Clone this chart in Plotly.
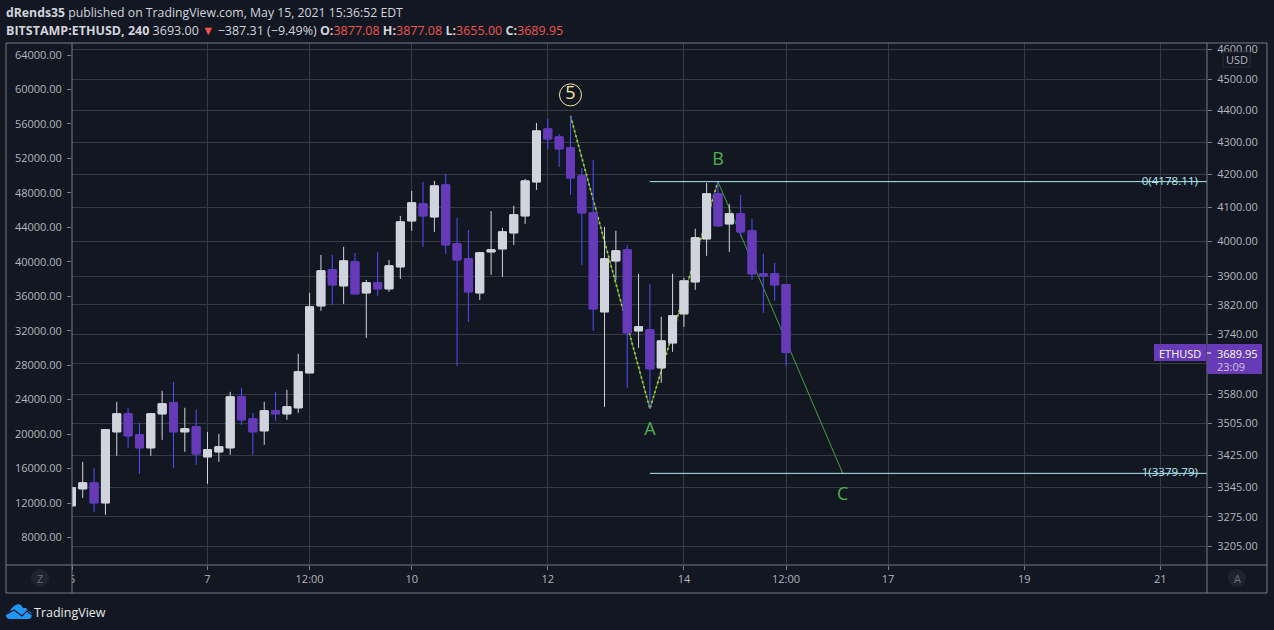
import pandas as pd
import plotly.graph_objects as go

# 4H candles ETHUSD
open_ = [3301, 3342, 3356.6, 3308.1, 3483.4, 3529.2, 3475.8, 3443.1, 3529.2, 3557.6,
         3483.4, 3496, 3420.6, 3433, 3443.1, 3573.1, 3516.4, 3486, 3537, 3529.2,
         3544.7, 3636, 3817.4, 3918.6, 3873.3, 3941.4, 3853.6, 3881.7, 3864.9, 3927.2,
         4060.6, 4111.1, 4072.4, 4168.2, 3993.3, 3950, 3853.6, 3970.2, 3978.9, 4025.4,
         4075.4, 4177.3, 4341.4, 4316.2, 4281.9, 4195.6, 4084.3, 3800.8, 3944.2, 3976,
         3748.7, 3751.4, 3649.2, 3716, 3795.3, 3884.5, 4007.8, 4141.1, 4051.8, 4081.4,
         4031.3, 3907.2, 3907.2, 3877.08]
high = [3344.5, 3408.2, 3393.4, 3488.5, 3560.2, 3544.7, 3506.2, 3531.8, 3588.7, 3612.2,
        3544.7, 3540, 3483.4, 3478.3, 3586.1, 3596.6, 3531.8, 3560.2, 3586.1, 3591.4,
        3686.5, 3853.6, 3961.5, 3961.5, 3984.7, 3967.3, 3890.1, 3970.2, 3947.1, 4075.4,
        4150.1, 4177.3, 4180.3, 4201.7, 4069.5, 4034.2, 3970.2, 4089.8, 4040.1, 4105.2,
        4186.4, 4360.3, 4373, 4325.6, 4382.6, 4220, 4244.6, 4043, 4031.3, 3990.5,
        3907.2, 3878.9, 3787, 3907.2, 3895.8, 4037.2, 4174.3, 4178.11, 4111.1, 4138,
        4066.5, 3964.4, 3938.6, 3877.08]
low = [3301, 3320, 3286.6, 3279.5, 3423.1, 3443.1, 3378.7, 3423.1, 3463.1, 3393.4,
       3433, 3400.8, 3354.2, 3408.2, 3425.6, 3501.1, 3425.6, 3450.6, 3511.3, 3513.8,
       3531.8, 3636, 3803.6, 3820.2, 3822.9, 3850.8, 3729.6, 3845.2, 3856.4, 3892.9,
       4031.3, 3984.7, 4028.3, 3964.4, 3654.5, 3773.2, 3834, 3904.4, 3898.6, 3990.5,
       4051.8, 4153, 4278.8, 4223.1, 4138, 3932.9, 3748.7, 3547.3, 3890.1, 3596.6,
       3702.6, 3542.1, 3609.6, 3691.9, 3759.6, 3862, 3958.7, 4045.9, 3970.2, 4013.7,
       3890.1, 3798.1, 3831.2, 3655]
close = [3344.5, 3356.6, 3308.1, 3488.5, 3529.2, 3473.2, 3443.1, 3529.2, 3555, 3483.4,
         3491, 3428, 3438, 3445.6, 3573.1, 3513.8, 3483.4, 3537, 3529.2, 3547.3,
         3638.6, 3814.6, 3915.8, 3876.1, 3944.2, 3850.8, 3881.7, 3864.9, 3930, 4057.6,
         4114.1, 4075.4, 4165.2, 3990.5, 3947.1, 3856.4, 3967.3, 3976, 4028.3, 4078.4,
         4180.3, 4335, 4309.9, 4278.8, 4189.4, 4084.3, 3809, 3950, 3973.1, 3743.2,
         3759.6, 3646.6, 3721.4, 3789.8, 3887.3, 4010.8, 4141.1, 4045.9, 4081.4, 4028.3,
         3907.2, 3901.5, 3876.1, 3689.95]
times = pd.date_range("2021-05-05", periods=len(open_), freq="4h")

body_high = [max(a, b) for a, b in zip(open_, close)]
body_low = [min(a, b) for a, b in zip(open_, close)]

right_ticks = [4600, 4500, 4400, 4300, 4200, 4100, 4000, 3900, 3820, 3740, 3660, 3580, 3505, 3425, 3345, 3275, 3205]
left_ticks = list(range(8000, 68000, 4000))
x_ticks = ["2021-05-05 00:14", "2021-05-07", "2021-05-08 12:00", "2021-05-10", "2021-05-12",
           "2021-05-14", "2021-05-15 12:00", "2021-05-17", "2021-05-19", "2021-05-21"]
x_labels = ["5", "7", "12:00", "10", "12", "14", "12:00", "17", "19", "21"]

# drawing on the chart
wave_x = ["2021-05-12 08:00", "2021-05-13 12:00", "2021-05-14 12:00", "2021-05-16 08:00"]
wave_y = [4382.6, 3542, 4178.11, 3379.79]
fib_start = "2021-05-13 12:00"
fib_end = "2021-05-21 16:27"
fib_levels = [4178.11, 3379.79]
fib_labels = ["0(4178.11)", "1(3379.79)"]
fib_label_x = "2021-05-21 13:16"
abc_text = ["A", "B", "C"]
abc_x = ["2021-05-13 12:00", "2021-05-14 12:00", "2021-05-16 08:00"]
abc_y = [3488, 4241.5, 3325]

BG = "#131722"
GRID = "#363a45"
FRAME = "#787b86"
TEXT = "#b2b5be"
WHITE = "#d1d4dc"
PURPLE = "#673ab7"
WICK = "#5050ff"
GREEN = "#4caf50"
CYAN = "#b2ebf2"
RED = "#ef5350"
FONT = "Open Sans"

W, H = 1274, 630
L, R, T, B = 72, 1207, 43, 565


def px(x):
    return (x - L) / (R - L)


def py(y):
    return (B - y) / (B - T)


fig = go.Figure()

# main axis: lines below the candles
fig.add_trace(go.Scatter(x=wave_x, y=wave_y, mode="lines", line=dict(color="#43a047", width=1), hoverinfo="skip"))
fig.add_trace(go.Scatter(x=wave_x[:3], y=wave_y[:3], mode="lines", line=dict(color="#b8c43a", width=1.8, dash="2px 3px"), hoverinfo="skip"))

# left price scale
fig.add_trace(go.Scatter(x=[times[0]] * len(left_ticks), y=left_ticks, yaxis="y2", mode="markers", opacity=0, hoverinfo="skip"))

# wicks, then bodies on top so wick colour does not outline the body
fig.add_trace(go.Candlestick(x=times, open=open_, high=high, low=low, close=close, yaxis="y3", whiskerwidth=0,
                             increasing=dict(line=dict(color=WHITE, width=1), fillcolor=WHITE),
                             decreasing=dict(line=dict(color=WICK, width=1), fillcolor=PURPLE)))
fig.add_trace(go.Candlestick(x=times, open=open_, high=body_high, low=body_low, close=close, yaxis="y3", whiskerwidth=0,
                             increasing=dict(line=dict(color=WHITE, width=1), fillcolor=WHITE),
                             decreasing=dict(line=dict(color=PURPLE, width=1), fillcolor=PURPLE)))

for level, label in zip(fib_levels, fib_labels):
    fig.add_trace(go.Scatter(x=[fib_start, fib_end], y=[level, level], yaxis="y3", mode="lines",
                             line=dict(color=CYAN, width=1), hoverinfo="skip"))
    fig.add_trace(go.Scatter(x=[fib_label_x], y=[level], yaxis="y3", mode="text", text=[label],
                             textposition="middle left", textfont=dict(family=FONT, size=11.6, color=CYAN), hoverinfo="skip"))

fig.add_trace(go.Scatter(x=abc_x, y=abc_y, yaxis="y3", mode="text", text=abc_text,
                         textfont=dict(family=FONT, size=18, color=GREEN), hoverinfo="skip"))
fig.add_trace(go.Scatter(x=["2021-05-12 08:00"], y=[4450], yaxis="y3", mode="markers+text", text=["5"],
                         textposition="middle center", textfont=dict(family=FONT, size=18, color="#f5e6a0"),
                         marker=dict(symbol="circle-open", size=22, color="#f5e6a0", line=dict(width=1, color="#f5e6a0")),
                         hoverinfo="skip"))

log_range = [3.49996, 3.66474]  # 3162 .. 4621

fig.update_layout(
    width=W, height=H, margin=dict(l=L, r=W - R, t=T, b=H - B, pad=0),
    paper_bgcolor=BG, plot_bgcolor=BG, showlegend=False, boxgap=0.3, boxgroupgap=0,
    font=dict(family=FONT, size=11, color=TEXT),
    xaxis=dict(type="date", range=["2021-05-05 00:13", fib_end], tickmode="array", tickvals=x_ticks, ticktext=x_labels,
               showgrid=True, gridcolor=GRID, gridwidth=1, ticks="outside", ticklen=4, tickcolor=FRAME, zeroline=False,
               rangeslider=dict(visible=False), tickfont=dict(family=FONT, size=11, color=TEXT), showline=False),
    yaxis=dict(type="log", side="right", range=log_range, tickmode="array", tickvals=right_ticks,
               ticktext=["" if v == 3660 else f"{v:.2f}" for v in right_ticks], showgrid=True, gridcolor=GRID, gridwidth=1,
               ticks="outside", ticklen=4, tickcolor=FRAME, zeroline=False, showline=False, ticklabelstandoff=3),
    yaxis2=dict(overlaying="y", side="left", range=[4808, 65393], tickmode="array", tickvals=left_ticks,
                ticktext=[f"{v:.2f}" for v in left_ticks], showgrid=False, ticks="outside", ticklen=4,
                tickcolor=FRAME, zeroline=False, showline=False, ticklabelstandoff=3),
    yaxis3=dict(overlaying="y", side="right", type="log", range=log_range, visible=False),
)

shapes = []


def rect(x0, y0, x1, y1, fill=None, line=None, width=1, layer="above"):
    shapes.append(dict(type="rect", xref="paper", yref="paper", x0=px(x0), x1=px(x1), y0=py(y0), y1=py(y1),
                       fillcolor=fill if fill else "rgba(0,0,0,0)", line=dict(color=line if line else "rgba(0,0,0,0)", width=width if line else 0),
                       layer=layer))


def seg(x0, y0, x1, y1, color=FRAME, width=1):
    shapes.append(dict(type="line", xref="paper", yref="paper", x0=px(x0), x1=px(x1), y0=py(y0), y1=py(y1),
                       line=dict(color=color, width=width), layer="above"))


def path(points, fill=None, color=None, width=1):
    d = "M " + " L ".join(f"{px(a):.5f},{py(b):.5f}" for a, b in points)
    shapes.append(dict(type="path", xref="paper", yref="paper", path=d + (" Z" if fill else ""),
                       fillcolor=fill if fill else "rgba(0,0,0,0)",
                       line=dict(color=color if color else "rgba(0,0,0,0)", width=width if color else 0), layer="above"))


# hides the left half of the "5" date label
rect(8, 566, 72, 592, fill=BG)

# frame
seg(6, 43, 1267, 43)
seg(6, 593, 1267, 593)
seg(6, 43, 6, 593)
seg(1267, 43, 1267, 593)
seg(72, 43, 72, 593)
seg(1207, 43, 1207, 593)
seg(6, 565, 1267, 565)

# price badges
rect(1154, 344, 1206, 361, fill=PURPLE)
rect(1207, 344, 1262, 374, fill=PURPLE)
seg(1207, 353, 1211, 353, color="#ffffff")
rect(1223, 52, 1250, 67, fill=BG, line="#2a2e39")

# round Z / A buttons
for cx in (40, 1237):
    shapes.append(dict(type="circle", xref="paper", yref="paper", x0=px(cx - 9), x1=px(cx + 9), y0=py(569), y1=py(587),
                       fillcolor="#1f232e", line=dict(width=0), layer="above"))

# TradingView logo
path([(6, 616), (7, 613), (10, 612), (11, 609), (14, 606), (18, 604), (21, 605), (23, 608), (26, 608), (28, 611),
      (31, 612), (32, 615), (31, 618), (29, 619), (9, 619), (7, 618)], fill="#2196f3")
path([(7, 614), (14, 610), (22, 616), (27, 611), (32, 615)], color="#0d1a2b", width=1.2)

fig.update_layout(shapes=shapes)


def note(x, y, text, size=11, color=TEXT, xanchor="left", weight=None):
    fig.add_annotation(xref="paper", yref="paper", x=px(x), y=py(y), text=text, showarrow=False, xanchor=xanchor, yanchor="middle",
                       font=dict(family=FONT, size=size, color=color), align="left", borderpad=0, borderwidth=0)


note(6, 13, "<b>dRends35</b> published on TradingView.com, May 15, 2021 15:36:52 EDT", size=12.25, color=WHITE)
red = lambda s: f'<span style="color:{RED}">{s}</span>'
note(6, 30, "<b>BITSTAMP:ETHUSD, 240</b> 3693.00 " + red("▼") + " −387.31 (−9.49%) <b>O:</b>" + red("3877.08")
     + " <b>H:</b>" + red("3877.08") + " <b>L:</b>" + red("3655.00") + " <b>C:</b>" + red("3689.95"), size=12.5, color=WHITE)

note(1180, 353, "ETHUSD", size=11, color="#ffffff", xanchor="center")
note(1217, 353, "3689.95", size=11, color="#ffffff")
note(1217, 366, "23:09", size=11, color="#d1c4e9")
note(1237, 59.5, "USD", size=11, color=TEXT, xanchor="center")
note(40, 578, "Z", size=11, color="#6a6d78", xanchor="center")
note(1237, 578, "A", size=11, color="#6a6d78", xanchor="center")
note(34, 612, "TradingView", size=12.5, color="#e8e8e8")

fig.write_html("out.html", post_script="document.body.style.margin='0';", config=dict(displayModeBar=False))
